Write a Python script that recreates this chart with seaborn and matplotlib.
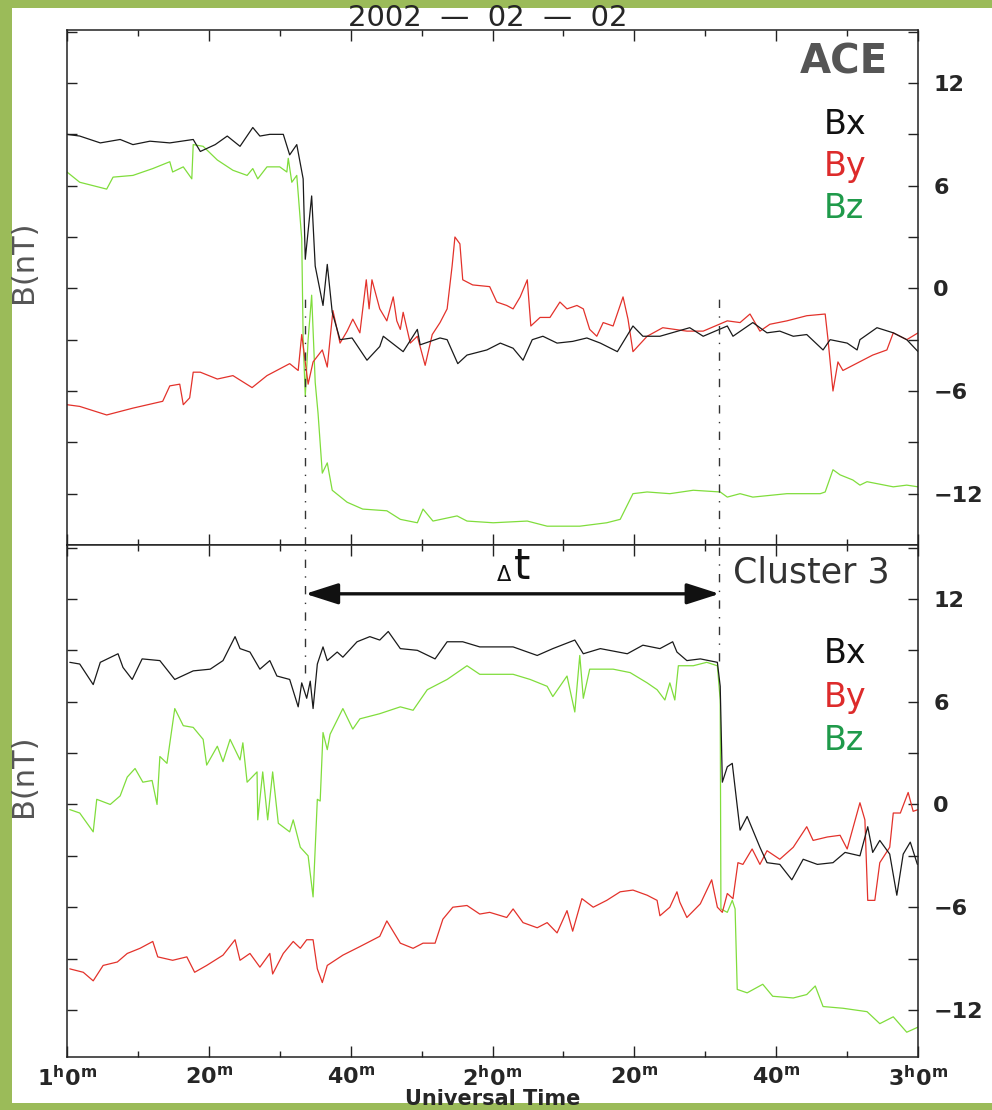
import pandas as pd
import matplotlib
matplotlib.use("Agg")
import matplotlib.pyplot as plt
import seaborn as sns
from matplotlib.patches import Rectangle
from matplotlib.ticker import MultipleLocator, FixedLocator

# =========================
# DATA  (minutes after 0 UT, nT)
# =========================

ace_bx = [(60.0, 9.0), (61.8, 8.9), (64.7, 8.5), (67.5, 8.7), (69.3, 8.4), (71.7, 8.6), (74.5, 8.5),
          (77.8, 8.7), (78.8, 8.0), (80.9, 8.4), (82.6, 8.9), (84.4, 8.3), (86.2, 9.4), (87.2, 8.9),
          (88.6, 9.0), (90.5, 9.0), (91.4, 7.8), (92.4, 8.4), (93.3, 6.4), (93.6, 1.7), (94.5, 5.4),
          (95.0, 1.3), (96.1, -1.0), (96.7, 1.4), (97.4, -1.4), (98.5, -3.0), (100.2, -2.9),
          (102.3, -4.2), (104.1, -3.4), (104.6, -2.8), (107.4, -3.7), (109.4, -2.4), (109.8, -3.3),
          (112.6, -2.9), (113.6, -3.0), (115.1, -4.4), (116.4, -3.9), (119.2, -3.6), (121.1, -3.2),
          (122.9, -3.5), (124.3, -4.2), (125.6, -3.0), (127.1, -2.8), (129.1, -3.2), (131.3, -3.1),
          (133.3, -2.9), (135.2, -3.2), (137.6, -3.7), (139.8, -2.2), (141.2, -2.8), (143.6, -2.8),
          (147.8, -2.3), (149.7, -2.8), (153.1, -2.2), (153.9, -2.8), (156.7, -2.0), (158.7, -2.6),
          (160.5, -2.5), (162.4, -2.8), (164.3, -2.7), (166.6, -3.6), (167.6, -3.0), (170.0, -3.2),
          (171.4, -3.6), (171.8, -3.0), (174.2, -2.3), (176.5, -2.6), (178.4, -3.0), (180.0, -3.7)]

ace_by = [(60.0, -6.8), (61.8, -6.9), (65.6, -7.4), (69.3, -7.0), (73.5, -6.6), (74.5, -5.7),
          (75.9, -5.6), (76.4, -6.8), (77.3, -6.4), (77.8, -4.9), (78.8, -4.9), (81.2, -5.3),
          (83.4, -5.1), (86.1, -5.8), (88.2, -5.1), (91.4, -4.4), (92.6, -4.8), (93.1, -2.7),
          (94.0, -5.6), (94.7, -4.3), (96.0, -3.6), (96.7, -4.6), (97.5, -1.3), (98.5, -3.2),
          (99.5, -2.5), (100.3, -1.8), (101.3, -2.6), (102.2, 0.5), (102.6, -1.2), (103.0, 0.5),
          (104.1, -1.2), (105.1, -1.9), (106.0, -0.5), (106.5, -1.9), (107.0, -2.4), (107.4, -1.4),
          (108.4, -3.2), (109.4, -2.8), (110.5, -4.5), (111.5, -2.7), (112.6, -2.0), (113.6, -1.2),
          (114.3, 1.3), (114.7, 3.0), (115.4, 2.6), (115.8, 0.5), (117.2, 0.2), (119.6, 0.1),
          (120.6, -0.8), (122.0, -1.0), (122.9, -1.2), (123.9, -0.5), (124.9, 0.5), (125.4, -2.2),
          (126.7, -1.7), (128.1, -1.7), (129.5, -0.8), (130.5, -1.2), (131.9, -1.0), (132.8, -1.2),
          (133.7, -2.4), (134.7, -2.8), (135.6, -2.0), (137.0, -2.2), (138.4, -0.5), (139.1, -1.8),
          (139.8, -3.7), (141.8, -2.8), (144.0, -2.3), (147.4, -2.5), (149.7, -2.5), (153.1, -1.9),
          (154.9, -2.0), (156.3, -1.5), (157.7, -2.5), (159.1, -2.1), (161.5, -1.9), (164.3, -1.6),
          (166.9, -1.5), (167.3, -3.0), (168.0, -6.0), (168.7, -4.3), (169.4, -4.8), (170.8, -4.5),
          (173.6, -3.9), (175.6, -3.6), (176.5, -2.6), (178.4, -3.0), (180.0, -2.6)]

ace_bz = [(60.0, 6.8), (61.8, 6.2), (65.6, 5.8), (66.5, 6.5), (69.3, 6.6), (72.1, 7.0), (74.5, 7.4),
          (74.9, 6.8), (76.4, 7.1), (77.6, 6.4), (77.8, 8.4), (79.2, 8.3), (81.2, 7.5), (83.4, 6.9),
          (85.4, 6.6), (86.2, 7.0), (86.9, 6.4), (88.2, 7.1), (90.0, 7.1), (91.0, 6.8), (91.2, 7.6),
          (91.7, 6.2), (92.4, 6.6), (93.1, 2.9), (93.3, -3.0), (93.6, -6.3), (94.0, -3.0),
          (94.5, -0.4), (95.0, -5.5), (95.4, -7.3), (96.0, -10.8), (96.7, -10.2), (97.4, -11.8),
          (99.5, -12.5), (101.7, -12.9), (105.1, -13.0), (107.0, -13.5), (109.4, -13.7),
          (110.2, -12.9), (111.6, -13.6), (115.0, -13.3), (116.4, -13.6), (120.1, -13.7),
          (124.9, -13.6), (127.7, -13.9), (132.3, -13.9), (136.1, -13.7), (138.0, -13.5),
          (139.8, -12.0), (141.8, -11.9), (145.0, -12.0), (148.3, -11.8), (152.1, -11.9),
          (153.1, -12.2), (154.9, -12.0), (156.7, -12.2), (161.5, -12.0), (166.2, -12.0),
          (166.9, -11.9), (168.0, -10.6), (169.0, -10.9), (170.8, -11.2), (171.8, -11.5),
          (172.8, -11.3), (176.5, -11.6), (178.4, -11.5), (180.0, -11.6)]

c3_bx = [(60.4, 8.3), (61.8, 8.2), (63.7, 7.0), (64.7, 8.3), (67.2, 8.8), (67.9, 8.0), (69.2, 7.3),
         (70.6, 8.5), (73.1, 8.4), (75.2, 7.3), (77.8, 7.8), (80.2, 7.9), (82.0, 8.4), (83.7, 9.8),
         (84.4, 9.1), (85.8, 8.9), (87.2, 7.9), (88.6, 8.4), (89.6, 7.5), (91.4, 7.3), (92.6, 5.7),
         (93.1, 7.1), (93.8, 6.2), (94.3, 7.2), (94.7, 5.6), (95.3, 8.2), (96.1, 9.2), (96.7, 8.4),
         (98.1, 8.9), (98.9, 8.6), (100.9, 9.5), (102.7, 9.8), (104.1, 9.6), (105.3, 10.1),
         (107.0, 9.1), (109.4, 9.0), (111.9, 8.5), (113.6, 9.5), (115.8, 9.5), (118.2, 9.2),
         (122.9, 9.2), (126.3, 8.7), (128.5, 9.1), (131.6, 9.6), (132.8, 8.8), (135.2, 9.1),
         (139.0, 8.8), (141.2, 9.3), (143.6, 9.1), (145.4, 9.5), (146.0, 8.9), (147.4, 8.4),
         (149.3, 8.5), (151.7, 8.3), (152.1, 6.9), (152.4, 1.3), (153.1, 2.2), (153.8, 2.4),
         (154.5, -0.1), (154.9, -1.5), (155.9, -0.7), (156.7, -1.5), (157.7, -2.5), (158.7, -3.4),
         (160.5, -3.5), (162.2, -4.4), (163.8, -3.2), (165.8, -3.5), (168.0, -3.4), (169.7, -2.8),
         (171.8, -3.0), (172.9, -1.3), (173.6, -2.8), (174.6, -2.1), (176.0, -2.9), (177.0, -5.3),
         (177.9, -2.9), (178.9, -2.2), (179.9, -3.5)]

c3_by = [(60.4, -9.6), (62.3, -9.8), (63.7, -10.3), (65.1, -9.4), (67.1, -9.2), (68.5, -8.7),
         (70.3, -8.4), (72.1, -8.0), (72.8, -8.9), (74.9, -9.1), (76.9, -8.9), (78.0, -9.8),
         (79.7, -9.4), (82.0, -8.8), (83.7, -7.9), (84.4, -9.1), (85.8, -8.7), (87.2, -9.5),
         (88.6, -8.7), (89.0, -9.9), (90.5, -8.7), (91.9, -8.0), (92.9, -8.4), (93.8, -7.9),
         (94.7, -7.9), (95.3, -9.6), (96.0, -10.4), (96.7, -9.4), (98.9, -8.8), (101.3, -8.3),
         (104.1, -7.7), (105.1, -6.8), (107.0, -8.1), (108.8, -8.4), (110.2, -8.1), (111.9, -8.1),
         (113.0, -6.7), (114.4, -6.0), (116.4, -5.9), (118.2, -6.4), (119.6, -6.3), (122.0, -6.6),
         (122.9, -6.1), (124.3, -6.9), (126.3, -7.2), (127.7, -6.9), (129.1, -7.5), (130.5, -6.2),
         (131.3, -7.4), (132.6, -5.5), (134.2, -6.0), (136.1, -5.6), (138.0, -5.1), (139.8, -5.0),
         (141.8, -5.3), (143.2, -5.6), (143.6, -6.5), (145.0, -6.0), (146.0, -5.1), (146.4, -5.7),
         (147.4, -6.6), (149.3, -5.8), (150.9, -4.4), (151.7, -6.0), (152.4, -6.3), (153.1, -5.2),
         (153.9, -5.5), (154.6, -3.4), (155.3, -3.5), (156.6, -2.6), (157.7, -3.5), (158.7, -2.7),
         (160.5, -3.2), (162.4, -2.5), (164.3, -1.3), (165.2, -2.1), (167.2, -1.9), (169.0, -1.8),
         (170.0, -2.6), (171.8, 0.1), (172.5, -0.9), (172.9, -5.6), (173.9, -5.6), (174.6, -3.4),
         (176.0, -2.5), (176.5, -0.5), (177.5, -0.5), (178.6, 0.7), (179.3, -0.4), (180.0, -0.3)]

c3_bz = [(60.4, -0.3), (61.8, -0.5), (63.7, -1.6), (64.2, 0.3), (66.1, 0.0), (67.5, 0.5), (68.5, 1.6),
         (69.6, 2.1), (70.7, 1.3), (72.0, 1.4), (72.7, 0.0), (73.1, 2.8), (74.1, 2.4), (75.2, 5.6),
         (76.4, 4.6), (77.8, 4.5), (79.2, 3.8), (79.7, 2.3), (81.2, 3.4), (82.0, 2.5), (83.0, 3.8),
         (84.4, 2.6), (84.8, 3.6), (85.4, 1.3), (86.8, 1.9), (86.9, -0.9), (87.6, 1.9), (88.3, -0.9),
         (89.0, 1.9), (89.8, -1.1), (91.4, -1.6), (91.9, -0.9), (92.9, -2.5), (94.0, -3.0),
         (94.7, -5.4), (95.3, 0.3), (95.7, 0.2), (96.1, 4.2), (96.7, 3.2), (97.1, 4.1), (98.9, 5.6),
         (100.3, 4.4), (101.3, 5.0), (104.1, 5.3), (107.0, 5.7), (108.8, 5.5), (110.8, 6.7),
         (113.6, 7.3), (116.4, 8.1), (118.2, 7.6), (122.9, 7.6), (125.3, 7.3), (127.7, 6.9),
         (128.5, 6.3), (130.5, 7.5), (131.6, 5.4), (132.3, 8.7), (132.8, 6.2), (133.7, 7.9),
         (137.0, 7.9), (139.4, 7.7), (141.8, 7.1), (143.2, 6.7), (144.3, 6.1), (145.0, 7.1),
         (145.7, 6.1), (146.2, 8.1), (148.3, 8.1), (150.2, 8.3), (151.7, 8.1), (152.1, 6.1),
         (152.2, -6.1), (153.1, -6.3), (153.8, -5.6), (154.2, -6.1), (154.5, -10.8), (155.9, -11.0),
         (158.1, -10.5), (159.5, -11.2), (162.4, -11.3), (164.3, -11.1), (165.5, -10.6),
         (166.6, -11.8), (169.4, -11.9), (172.8, -12.1), (174.6, -12.8), (176.5, -12.4),
         (178.4, -13.3), (180.0, -13.0)]

# shock arrival times (min) at ACE and Cluster 3
t_ace = 93.6
t_cluster = 152.0

x_ticks = [60, 80, 100, 120, 140, 160, 180]
x_labels = [r'1$^{\mathbf{h}}$0$^{\mathbf{m}}$', r'20$^{\mathbf{m}}$', r'40$^{\mathbf{m}}$',
            r'2$^{\mathbf{h}}$0$^{\mathbf{m}}$', r'20$^{\mathbf{m}}$', r'40$^{\mathbf{m}}$',
            r'3$^{\mathbf{h}}$0$^{\mathbf{m}}$']
y_ticks = [-12, -6, 0, 6, 12]
y_labels = ['\u221212', '\u22126', '0', '6', '12']

line_colors = {'Bx': '#1a1a1a', 'By': '#e3322b', 'Bz': '#80dd3c'}
text_colors = {'Bx': '#111111', 'By': '#dd2b2b', 'Bz': '#1f9a4a'}


def to_frame(pairs, comp):
    df = pd.DataFrame(pairs, columns=['t', 'B'])
    df['comp'] = comp
    return df


ace = pd.concat([to_frame(ace_bx, 'Bx'), to_frame(ace_by, 'By'), to_frame(ace_bz, 'Bz')])
c3 = pd.concat([to_frame(c3_bx, 'Bx'), to_frame(c3_by, 'By'), to_frame(c3_bz, 'Bz')])

# =========================
# FIGURE
# =========================

sns.set_style('white')
plt.rcParams['font.family'] = ['DejaVu Sans']
plt.rcParams['mathtext.default'] = 'bf'

fig = plt.figure(figsize=(9.92, 11.1), dpi=100, facecolor='#9bbb59')
fig.patches.append(Rectangle((0.0121, 0.0063), 0.99, 0.9865, transform=fig.transFigure,
                             facecolor='white', edgecolor='none', zorder=-10))

ax1 = fig.add_axes([0.0675, 0.509, 0.858, 0.464])
ax2 = fig.add_axes([0.0675, 0.0477, 0.858, 0.4613])

for ax, df, ylim in [(ax1, ace, (-15, 15.1)), (ax2, c3, (-14.75, 15.15))]:
    # draw Bz first so the black/red traces sit on top like the original
    for comp in ['Bz', 'By', 'Bx']:
        sns.lineplot(data=df[df['comp'] == comp], x='t', y='B', ax=ax, color=line_colors[comp],
                     lw=0.9, estimator=None, sort=False, legend=False)
    ax.set_xlim(60, 180)
    ax.set_ylim(*ylim)
    ax.xaxis.set_major_locator(FixedLocator(x_ticks))
    ax.xaxis.set_minor_locator(MultipleLocator(10))
    ax.yaxis.set_major_locator(FixedLocator(y_ticks))
    ax.yaxis.set_minor_locator(MultipleLocator(3))
    ax.tick_params(axis='both', which='both', direction='in', top=True, right=True,
                   left=True, bottom=True, color='#222222', width=1.0)
    ax.tick_params(axis='x', which='major', length=8)
    ax.tick_params(axis='x', which='minor', length=4)
    ax.tick_params(axis='y', which='both', length=7)
    ax.tick_params(axis='y', labelleft=False, labelright=True, labelsize=16, pad=11)
    ax.set_yticklabels(y_labels, fontweight='bold')
    for sp in ax.spines.values():
        sp.set_color('#222222')
        sp.set_linewidth(1.1)
    ax.set_ylabel('B(nT)', fontsize=22, color='#555555')
    ax.yaxis.set_label_coords(-0.034, 0.55)

ax1.set_xlabel('')
ax1.tick_params(axis='x', labelbottom=False)
ax2.set_xticklabels(x_labels, fontsize=16, fontweight='bold')
ax2.tick_params(axis='x', pad=6)
ax2.set_xlabel('Universal Time', fontsize=15, fontweight='bold', labelpad=-1)

fig.text(0.492, 0.984, '2002  \u2014  02  \u2014  02', ha='center', va='center', fontsize=21)

# panel names and component labels
ax1.text(0.965, 0.975, 'ACE', transform=ax1.transAxes, ha='right', va='top',
         fontsize=29, fontweight='bold', color='#555555')
ax2.text(0.967, 0.947, 'Cluster 3', transform=ax2.transAxes, ha='right', va='center',
         fontsize=25, color='#333333')
for ax, ys in [(ax1, [0.816, 0.734, 0.654]), (ax2, [0.789, 0.703, 0.619])]:
    for comp, yy in zip(['Bx', 'By', 'Bz'], ys):
        ax.text(0.889, yy, comp, transform=ax.transAxes, ha='left', va='center',
                fontsize=24, color=text_colors[comp])

# shock markers
dash = (0, (6, 6, 1, 6))
ax1.vlines([t_ace, t_cluster], -15, -0.6, colors='#333333', lw=1.0, linestyles=[dash])
ax2.vlines([t_ace], 7.7, 15.15, colors='#333333', lw=1.0, linestyles=[dash])
ax2.vlines([t_cluster], 8.4, 15.15, colors='#333333', lw=1.0, linestyles=[dash])

arrow_y = 12.3
ax2.annotate('', xy=(t_cluster, arrow_y), xytext=(t_ace, arrow_y),
             arrowprops=dict(arrowstyle='<|-|>,head_length=1.0,head_width=0.32',
                             mutation_scale=20, lw=2.4, color='#111111', shrinkA=0, shrinkB=0))
t_mid = (t_ace + t_cluster) / 2
ax2.annotate('\u0394', xy=(t_mid, arrow_y), xytext=(-1, 6), textcoords='offset points',
             ha='right', va='bottom', fontsize=15, color='#111111')
ax2.annotate('t', xy=(t_mid, arrow_y), xytext=(1, 4), textcoords='offset points',
             ha='left', va='bottom', fontsize=30, color='#111111')

plt.savefig('out.png', dpi=100, facecolor=fig.get_facecolor())
print("saved out.png")
